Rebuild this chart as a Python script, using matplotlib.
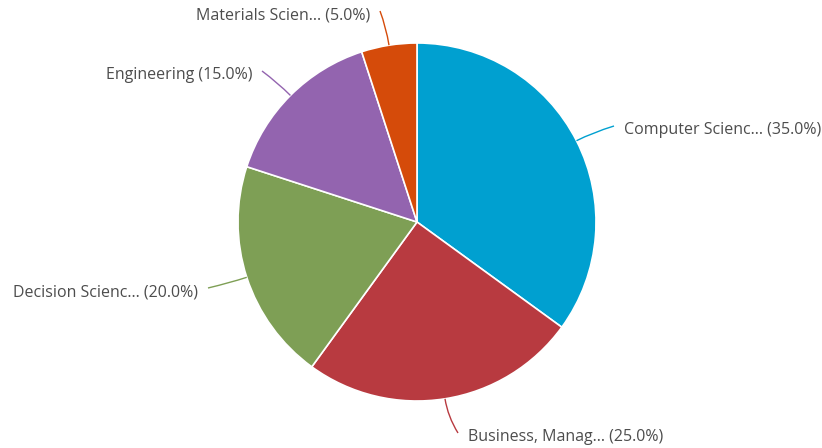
import matplotlib
matplotlib.use("Agg")
import matplotlib.pyplot as plt
import numpy as np
from matplotlib.path import Path
from matplotlib.patches import PathPatch

categories = ["Computer Scienc...", "Business, Manag...", "Decision Scienc...",
              "Engineering", "Materials Scien..."]
shares = [35.0, 25.0, 20.0, 15.0, 5.0]
colors = ["#00a0d0", "#b83a40", "#7e9f55", "#9364af", "#d54b0a"]

# label anchor positions in pixels (bottom-up) and alignment
label_pos = [(624, 318, "left"), (468, 11, "left"), (198, 156, "right"),
             (252, 373, "right"), (370, 433, "right")]

W, H = 822, 448
cx, cy, r = 417, 226, 179

fig = plt.figure(figsize=(W / 100, H / 100), dpi=100)
ax = fig.add_axes([0, 0, 1, 1])

wedges, _ = ax.pie(shares, colors=colors, startangle=90, counterclock=False,
                   center=(cx, cy), radius=r, frame=True,
                   wedgeprops=dict(edgecolor="white", linewidth=1.2))
ax.set_xlim(0, W)
ax.set_ylim(0, H)
ax.set_aspect("equal")
ax.axis("off")

cum = 0.0
for name, val, col, (tx, ty, ha) in zip(categories, shares, colors, label_pos):
    mid = np.deg2rad(90 - (cum + val / 2) * 3.6)
    cum += val
    sx, sy = cx + r * np.cos(mid), cy + r * np.sin(mid)
    ctrl = (cx + (r + 18) * np.cos(mid), cy + (r + 18) * np.sin(mid))
    ex = tx - 10 if ha == "left" else tx + 10
    path = Path([(sx, sy), ctrl, (ex, ty + 4)], [Path.MOVETO, Path.CURVE3, Path.CURVE3])
    ax.add_patch(PathPatch(path, fill=False, edgecolor=col, linewidth=1.0))
    ax.text(tx, ty, f"{name} ({val:.1f}%)", ha=ha, va="center",
            fontsize=11.5, color="#4d4d4d", family=["Open Sans", "DejaVu Sans"])

fig.savefig("out.png", dpi=100)
